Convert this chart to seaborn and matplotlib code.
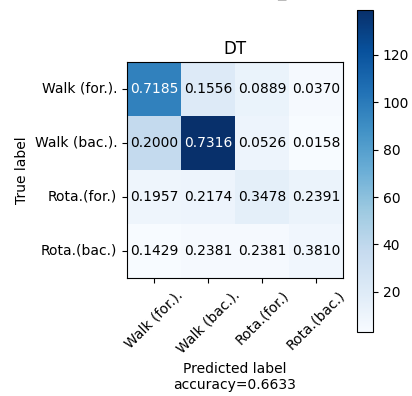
import numpy as np
import pandas as pd
import matplotlib
matplotlib.use("Agg")
import matplotlib.pyplot as plt
import seaborn as sns

# Class names and confusion counts for the decision tree classifier
classes = ["Walk (for.).", "Walk (bac.).", "Rota.(for.)", "Rota.(bac.)"]
row_walk_for = [97, 21, 12, 5]
row_walk_bac = [38, 139, 10, 3]
row_rota_for = [9, 10, 16, 11]
row_rota_bac = [3, 5, 5, 8]

counts = np.array([row_walk_for, row_walk_bac, row_rota_for, row_rota_bac])
norm = counts / counts.sum(axis=1, keepdims=True)
accuracy = np.trace(counts) / counts.sum()

df = pd.DataFrame(counts, index=classes, columns=classes)
labels = np.vectorize(lambda v: f"{v:.4f}")(norm)

fig = plt.figure(figsize=(4.12, 3.96), dpi=100)
W, H = 412, 396
ax = fig.add_axes([127 / W, 1 - 278 / H, 216 / W, 216 / H])
cax = fig.add_axes([357 / W, 1 - 332 / H, 16 / W, 322 / H])

sns.heatmap(df, ax=ax, cbar_ax=cax, cmap="Blues", annot=labels, fmt="",
            annot_kws={"fontsize": 10}, square=False)

# Text colour follows the half-max threshold on raw counts
thresh = counts.max() / 2
for t, v in zip(ax.texts, counts.flatten()):
    t.set_color("white" if v > thresh else "black")

for sp in ax.spines.values():
    sp.set_visible(True)
    sp.set_linewidth(0.8)
    sp.set_color("black")
cbar = ax.collections[0].colorbar
cbar.outline.set_linewidth(0.8)
cbar.outline.set_edgecolor("black")

ax.tick_params(axis="both", length=3.5, width=0.8, labelsize=10)
ax.set_xticklabels(classes, rotation=45, ha="center")
ax.set_yticklabels(classes, rotation=0, va="center")
cax.tick_params(labelsize=10, length=3.5, width=0.8)

ax.set_title("DT", fontsize=12)
ax.set_ylabel("True label", fontsize=10)
ax.set_xlabel(f"Predicted label\naccuracy={accuracy:.4f}", fontsize=10)

fig.text(281 / W, 1 + 4.2 / H, "_", ha="center", va="baseline", fontsize=12)

fig.savefig("out.png", dpi=100)
